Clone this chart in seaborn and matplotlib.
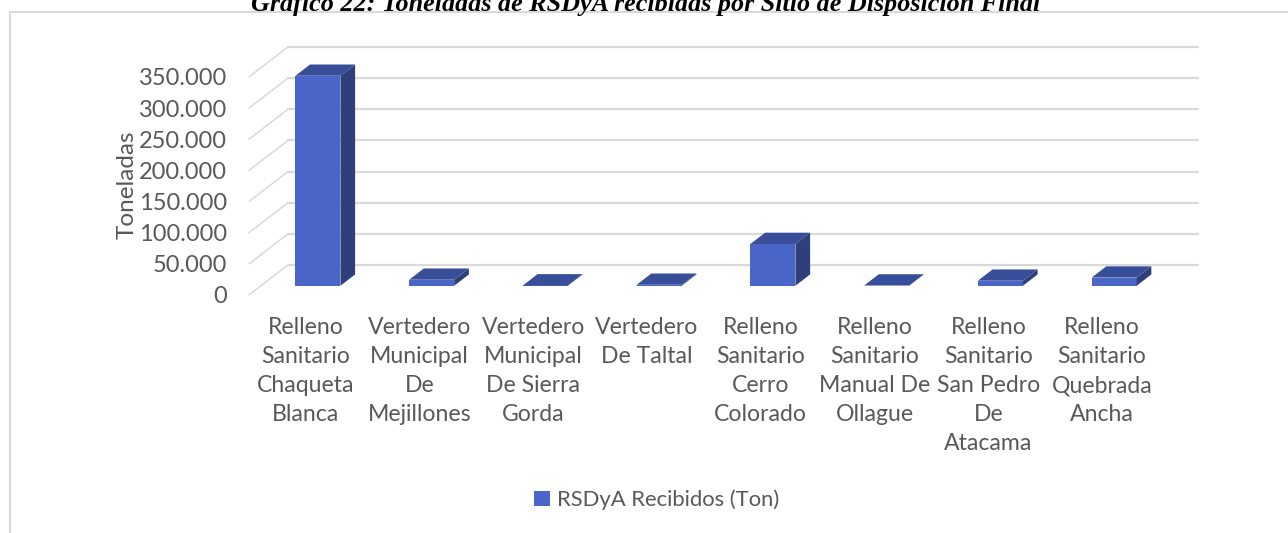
import numpy as np
import pandas as pd
import matplotlib
matplotlib.use("Agg")
import matplotlib.pyplot as plt
from matplotlib.patches import Polygon, Rectangle
from matplotlib.lines import Line2D
from matplotlib.transforms import Affine2D
import seaborn as sns

# Datos del grafico
sitios = [
    "Relleno\nSanitario\nChaqueta\nBlanca",
    "Vertedero\nMunicipal\nDe\nMejillones",
    "Vertedero\nMunicipal\nDe Sierra\nGorda",
    "Vertedero\nDe Taltal",
    "Relleno\nSanitario\nCerro\nColorado",
    "Relleno\nSanitario\nManual De\nOllague",
    "Relleno\nSanitario\nSan Pedro\nDe\nAtacama",
    "Relleno\nSanitario\nQuebrada\nAncha",
]
toneladas = [337000, 9600, 500, 1500, 67000, 300, 8000, 13000]
y_ticks = [0, 50000, 100000, 150000, 200000, 250000, 300000, 350000]
y_labels = ["0", "50.000", "100.000", "150.000", "200.000", "250.000", "300.000", "350.000"]
serie = "RSDyA Recibidos (Ton)"
titulo = "Gráfico 22: Toneladas de RSDyA recibidas por Sitio de Disposición Final"

df = pd.DataFrame({"sitio": sitios, "toneladas": toneladas})

# colores estilo excel
c_front = "#4A66C8"
c_top = "#394E98"
c_side = "#2F3F7C"
c_grid = "#D9D9D9"
c_text = "#595959"

sns.set_theme(style="white")
plt.rcParams["font.family"] = ["Lato", "DejaVu Sans"]

fig = plt.figure(figsize=(12.88, 5.33), dpi=100)
ax = fig.add_axes([0.19332, 0.44653, 0.73680, 0.46754])

# profundidad del "3D": pared del fondo y barras
wall_dx, wall_dy = 0.343, 48200
bar_fx, bar_fy = 0.106, 14900      # cara frontal de la barra dentro de la profundidad
bar_dx, bar_dy = 0.129, 18100      # grosor de la barra

sns.barplot(data=df, x="sitio", y="toneladas", color=c_front, saturation=1,
            width=0.396, ax=ax, zorder=3)

# gridlines en la pared del fondo + diagonales en la pared izquierda
for v in y_ticks:
    ax.plot([-0.5 + wall_dx, 7.5 + wall_dx], [v + wall_dy, v + wall_dy],
            color=c_grid, lw=1.6, zorder=1, clip_on=False)
    ax.plot([-0.5, -0.5 + wall_dx], [v, v + wall_dy],
            color=c_grid, lw=1.1, zorder=1, clip_on=False)

shift = Affine2D().translate(bar_fx, bar_fy) + ax.transData
for p in list(ax.patches):
    x0, w, h = p.get_x(), p.get_width(), p.get_height()
    p.set_transform(shift)
    p.set_edgecolor("none")
    top = Polygon([(x0, h), (x0 + w, h), (x0 + w + bar_dx, h + bar_dy), (x0 + bar_dx, h + bar_dy)],
                  closed=True, facecolor=c_top, edgecolor="none", zorder=4, transform=shift)
    side = Polygon([(x0 + w, 0), (x0 + w + bar_dx, bar_dy), (x0 + w + bar_dx, h + bar_dy), (x0 + w, h)],
                   closed=True, facecolor=c_side, edgecolor="none", zorder=4, transform=shift)
    ax.add_patch(top)
    ax.add_patch(side)

ax.set_xlim(-0.5, 7.5 + wall_dx)
ax.set_ylim(0, 400000)
ax.set_yticks(y_ticks)
ax.set_yticklabels(y_labels)
ax.tick_params(axis="y", length=0, pad=16, labelsize=17, labelcolor=c_text)
ax.tick_params(axis="x", length=0, pad=16, labelsize=16.6, labelcolor=c_text)
for t in ax.get_xticklabels():
    t.set_linespacing(1.47)
ax.set_xlabel("")
ax.set_ylabel("Toneladas", fontsize=17.5, color=c_text)
ax.yaxis.set_label_coords(-0.117, 0.441)
for s in ax.spines.values():
    s.set_visible(False)
ax.grid(False)

# titulo (cortado arriba, como en la imagen)
fig.text(0.5016, 1 - 11 / 533, titulo, ha="center", va="baseline",
         family="Liberation Serif", fontsize=18.8, fontweight="bold",
         fontstyle="italic", color="black")

# borde del area del grafico
fig.add_artist(Line2D([10 / 1288, 1], [1 - 12 / 533, 1 - 12 / 533],
                      transform=fig.transFigure, color=c_grid, lw=1.5))
fig.add_artist(Line2D([10 / 1288, 10 / 1288], [0, 1 - 12 / 533],
                      transform=fig.transFigure, color=c_grid, lw=1.5))

# leyenda
handle = Rectangle((0, 0), 1, 1, facecolor=c_front, edgecolor="none")
fig.legend(handles=[handle], labels=[serie], loc="center",
           bbox_to_anchor=(0.510, 0.0619), frameon=False, fontsize=15.8,
           handlelength=0.7, handleheight=0.7, handletextpad=0.35,
           labelcolor=c_text)

fig.savefig("out.png", dpi=100)
